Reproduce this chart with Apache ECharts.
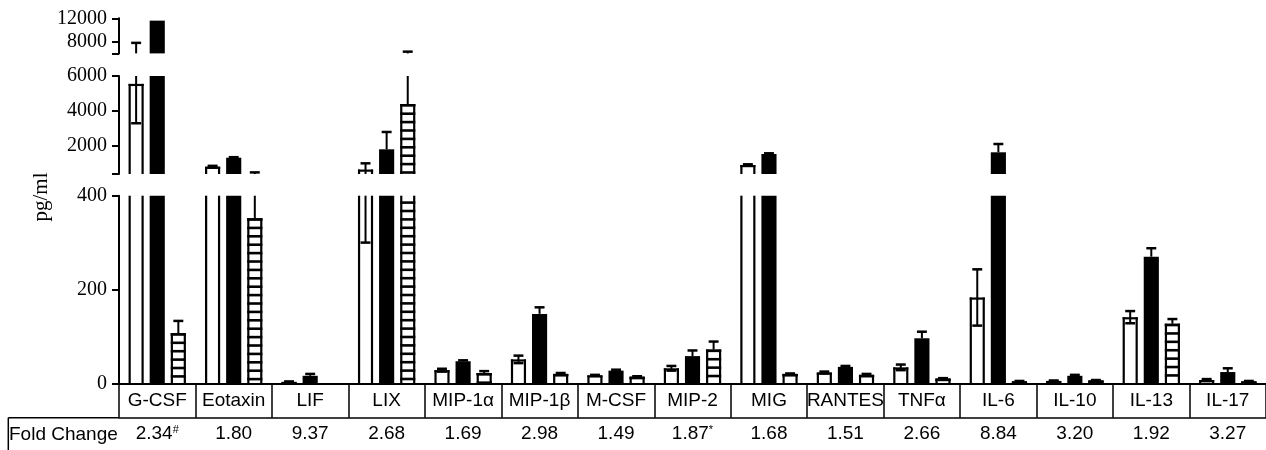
<!DOCTYPE html>
<html><head><meta charset="utf-8">
<script src="https://cdn.jsdelivr.net/npm/echarts@6/dist/echarts.min.js"></script>
<style>html,body{margin:0;padding:0;background:#fff}#c{width:1266px;height:450px}</style>
</head><body><div id="c"></div>
<script>
// ---- data ----
const categories = ['G-CSF','Eotaxin','LIF','LIX','MIP-1α','MIP-1β','M-CSF','MIP-2','MIG','RANTES','TNFα','IL-6','IL-10','IL-13','IL-17'];
const foldChange = ['2.34','1.80','9.37','2.68','1.69','2.98','1.49','1.87','1.68','1.51','2.66','8.84','3.20','1.92','3.27'];
const foldMark   = ['#','','','','','','','*','','','','','','',''];
const whiteVals  = [5550, 817, 3, 655, 28, 51, 17, 32, 914, 23, 34, 183, 5, 141, 7];
const whiteErr   = [2250, 50, 1, 355, 3, 8, 1, 5, 40, 2, 6, 60, 1, 13, 2];
const blackVals  = [11600, 1331, 16, 1811, 47, 148, 27, 58, 1543, 35, 96, 1640, 16, 270, 24];
const blackErr   = [0, 30, 4, 990, 2, 14, 2, 12, 40, 2, 14, 474, 2, 18, 8];
const stripeVals = [107, 352, 0, 4400, 22, 20, 14, 72, 20, 18, 10, 4, 6, 127, 4];
const stripeErr  = [26, 140, 0, 1900, 4, 2, 1, 17, 1, 2, 1, 1, 1, 10, 1];
// broken y axis segments: [min, max], tick values, label values
const segRanges  = [[6000, 12000], [400, 6000], [0, 400]];
const segTicks   = [[6000, 8000, 12000], [400, 2000, 4000, 6000], [0, 200, 400]];
const segLabels  = [[8000, 12000], [2000, 4000, 6000], [0, 200, 400]];
const yTitle = 'pg/ml';
const rowTitle = 'Fold Change';

// ---- layout ----
const grids = [
  {left: 119, right: 0, top: 18.3, height: 35.1},
  {left: 119, right: 0, top: 76, height: 98},
  {left: 119, right: 0, top: 195.7, height: 187.6}
];
const groups = [
  {kind: 'white', vals: whiteVals, errs: whiteErr},
  {kind: 'black', vals: blackVals, errs: blackErr},
  {kind: 'stripe', vals: stripeVals, errs: stripeErr}
];

function makeRender(kind, k) {
  return function (params, api) {
    const cs = params.coordSys;
    const i = api.value(0), v = api.value(1), e = api.value(2);
    const band = api.size([1, 0])[0];
    const c0 = api.coord([i, 0]);
    const cx = c0[0] + (k - 1) * band * 0.276;
    const w = band * 0.198;
    const x0 = cx - w / 2;
    const yTop = api.coord([i, v])[1];
    const yBase = c0[1];
    const top = cs.y, bot = cs.y + cs.height;
    const ch = [];
    const lw = 2.2;
    const yT = Math.max(yTop, top), yB = Math.min(yBase, bot);
    if (v > 0 && yT < yB) {
      if (kind === 'black') {
        ch.push({type: 'rect', shape: {x: x0, y: yT, width: w, height: yB - yT}, style: {fill: '#000'}});
      } else {
        ch.push({type: 'rect', shape: {x: x0, y: yT, width: w, height: yB - yT}, style: {fill: '#fff'}});
        if (kind === 'stripe') {
          for (let y = yTop + 1.3; y < yB; y += 8.4) {
            if (y >= yT) ch.push({type: 'line', shape: {x1: x0, y1: y, x2: x0 + w, y2: y}, style: {stroke: '#000', lineWidth: 2.6}});
          }
        }
        ch.push({type: 'line', shape: {x1: x0 + lw / 2, y1: yT, x2: x0 + lw / 2, y2: yB}, style: {stroke: '#000', lineWidth: lw}});
        ch.push({type: 'line', shape: {x1: x0 + w - lw / 2, y1: yT, x2: x0 + w - lw / 2, y2: yB}, style: {stroke: '#000', lineWidth: lw}});
        if (yTop >= top) ch.push({type: 'line', shape: {x1: x0, y1: yTop + lw / 2, x2: x0 + w, y2: yTop + lw / 2}, style: {stroke: '#000', lineWidth: lw}});
      }
    }
    if (e > 0) {
      const yHi = api.coord([i, v + e])[1];
      const yLo = api.coord([i, kind === 'white' ? v - e : v])[1];
      const a = Math.max(yHi, top), b = Math.min(yLo, bot);
      if (a < b) ch.push({type: 'line', shape: {x1: cx, y1: a, x2: cx, y2: b}, style: {stroke: '#000', lineWidth: 2}});
      const cw = band * 0.065;
      if (yHi >= top && yHi <= bot) ch.push({type: 'line', shape: {x1: cx - cw, y1: yHi, x2: cx + cw, y2: yHi}, style: {stroke: '#000', lineWidth: 2.5}});
      if (kind === 'white' && yLo >= top && yLo <= bot) ch.push({type: 'line', shape: {x1: cx - cw, y1: yLo, x2: cx + cw, y2: yLo}, style: {stroke: '#000', lineWidth: 2.5}});
    }
    return {type: 'group', children: ch};
  };
}

const serif = 'Liberation Serif', sans = 'Liberation Sans';
const xAxes = [], yAxes = [], series = [];
grids.forEach((g, gi) => {
  const isBottom = gi === 2;
  xAxes.push({
    type: 'category', gridIndex: gi, data: categories, z: 5,
    show: isBottom,
    axisLine: {show: isBottom, lineStyle: {color: '#000', width: 2}},
    axisTick: {show: isBottom, interval: 0, length: 34.4, lineStyle: {color: '#000', width: 1.5}},
    axisLabel: {show: isBottom, interval: 0, margin: 8, color: '#000', fontFamily: sans, fontSize: 19}
  });
  yAxes.push({
    type: 'value', gridIndex: gi, min: segRanges[gi][0], max: segRanges[gi][1],
    splitLine: {show: false},
    axisLine: {show: true, lineStyle: {color: '#000', width: 2}},
    axisTick: {show: true, length: 7, customValues: segTicks[gi], lineStyle: {color: '#000', width: 2}},
    axisLabel: {margin: 12, customValues: segLabels[gi], formatter: (v) => String(v),
                color: '#000', fontFamily: serif, fontSize: 20, showMinLabel: true, showMaxLabel: true}
  });
  groups.forEach((grp, k) => {
    series.push({
      type: 'custom', xAxisIndex: gi, yAxisIndex: gi, clip: false,
      renderItem: makeRender(grp.kind, k),
      encode: {x: 0, y: 1},
      data: categories.map((c, i) => [i, grp.vals[i], grp.errs[i]])
    });
  });
});
// fold change row as second category axis on the bottom grid
xAxes.push({
  type: 'category', gridIndex: 2, position: 'bottom', offset: 34.4, data: categories, z: 5,
  axisLine: {lineStyle: {color: '#000', width: 1.5}},
  axisTick: {interval: 0, length: 40, lineStyle: {color: '#000', width: 1.5}},
  axisLabel: {
    interval: 0, margin: 7,
    formatter: (val, idx) => '{n|' + foldChange[idx] + '}' + (foldMark[idx] ? '{s|' + foldMark[idx] + '}' : ''),
    rich: {
      n: {color: '#000', fontFamily: sans, fontSize: 19},
      s: {color: '#000', fontFamily: sans, fontSize: 11, verticalAlign: 'top', lineHeight: 12}
    }
  }
});

const chart = echarts.init(document.getElementById('c'), null, {renderer: 'canvas'});
chart.setOption({
  animation: false,
  backgroundColor: '#fff',
  grid: grids,
  xAxis: xAxes,
  yAxis: yAxes,
  series: series,
  graphic: [
    {type: 'text', x: 41, y: 197, rotation: Math.PI / 2,
     style: {text: yTitle, fill: '#000', font: '21px "Liberation Serif"', align: 'center', verticalAlign: 'middle'}},
    {type: 'text', x: 9, y: 435,
     style: {text: rowTitle, fill: '#000', font: '19px "Liberation Sans"', align: 'left', verticalAlign: 'middle'}},
    {type: 'line', shape: {x1: 8.3, y1: 417.7, x2: 119, y2: 417.7}, style: {stroke: '#000', lineWidth: 1.5}},
    {type: 'line', shape: {x1: 8.3, y1: 417.7, x2: 8.3, y2: 450}, style: {stroke: '#000', lineWidth: 1.5}}
  ]
});
</script></body></html>
